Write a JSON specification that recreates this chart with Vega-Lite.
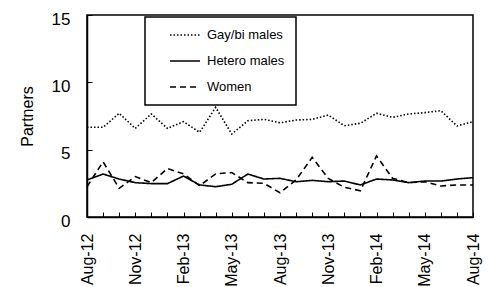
{
  "$schema": "https://vega.github.io/schema/vega-lite/v6.json",
  "autosize": {"type": "none"},
  "padding": {"left": 87, "top": 15, "right": 22, "bottom": 70},
  "width": 386,
  "height": 202,
  "background": "white",
  "config": {
    "font": "Liberation Sans",
    "view": {"stroke": "black", "strokeWidth": 1.5},
    "axis": {"domainColor": "black", "domainWidth": 1.5, "tickColor": "black", "tickWidth": 1, "labelColor": "black", "titleColor": "black", "grid": false, "labelFont": "Liberation Sans", "titleFont": "Liberation Sans"}
  },
  "data": {
    "values": [
      {"month": "Aug-12", "Gay/bi males": 6.66, "Hetero males": 2.75, "Women": 2.25},
      {"month": "Sep-12", "Gay/bi males": 6.66, "Hetero males": 3.19, "Women": 4.1},
      {"month": "Oct-12", "Gay/bi males": 7.7, "Hetero males": 2.82, "Women": 2.13},
      {"month": "Nov-12", "Gay/bi males": 6.58, "Hetero males": 2.55, "Women": 3.0},
      {"month": "Dec-12", "Gay/bi males": 7.65, "Hetero males": 2.48, "Women": 2.55},
      {"month": "Jan-13", "Gay/bi males": 6.58, "Hetero males": 2.48, "Women": 3.6},
      {"month": "Feb-13", "Gay/bi males": 7.08, "Hetero males": 3.04, "Women": 3.2},
      {"month": "Mar-13", "Gay/bi males": 6.29, "Hetero males": 2.38, "Women": 2.33},
      {"month": "Apr-13", "Gay/bi males": 8.14, "Hetero males": 2.25, "Women": 3.2},
      {"month": "May-13", "Gay/bi males": 6.16, "Hetero males": 2.43, "Women": 3.3},
      {"month": "Jun-13", "Gay/bi males": 7.15, "Hetero males": 3.19, "Women": 2.55},
      {"month": "Jul-13", "Gay/bi males": 7.25, "Hetero males": 2.82, "Women": 2.5},
      {"month": "Aug-13", "Gay/bi males": 7.0, "Hetero males": 2.87, "Women": 1.8},
      {"month": "Sep-13", "Gay/bi males": 7.2, "Hetero males": 2.62, "Women": 2.75},
      {"month": "Oct-13", "Gay/bi males": 7.25, "Hetero males": 2.72, "Women": 4.43},
      {"month": "Nov-13", "Gay/bi males": 7.57, "Hetero males": 2.62, "Women": 2.87},
      {"month": "Dec-13", "Gay/bi males": 6.78, "Hetero males": 2.67, "Women": 2.2},
      {"month": "Jan-14", "Gay/bi males": 6.96, "Hetero males": 2.38, "Women": 1.95},
      {"month": "Feb-14", "Gay/bi males": 7.7, "Hetero males": 2.82, "Women": 4.53},
      {"month": "Mar-14", "Gay/bi males": 7.4, "Hetero males": 2.75, "Women": 2.87},
      {"month": "Apr-14", "Gay/bi males": 7.65, "Hetero males": 2.55, "Women": 2.55},
      {"month": "May-14", "Gay/bi males": 7.75, "Hetero males": 2.67, "Women": 2.62},
      {"month": "Jun-14", "Gay/bi males": 7.9, "Hetero males": 2.67, "Women": 2.3},
      {"month": "Jul-14", "Gay/bi males": 6.76, "Hetero males": 2.82, "Women": 2.38},
      {"month": "Aug-14", "Gay/bi males": 7.08, "Hetero males": 2.92, "Women": 2.38}
    ]
  },
  "transform": [
    {"fold": ["Gay/bi males", "Hetero males", "Women"], "as": ["group", "partners"]}
  ],
  "mark": {"type": "line", "color": "black", "strokeWidth": 1.6},
  "encoding": {
    "x": {
      "field": "month",
      "type": "ordinal",
      "sort": null,
      "scale": {"type": "point", "padding": 0},
      "axis": {
        "title": null,
        "labelAngle": -90,
        "labelAlign": "right",
        "labelBaseline": "middle",
        "labelFontSize": 16,
        "labelPadding": 21,
        "tickSize": -5,
        "labelExpr": "indexof(['Aug-12','Nov-12','Feb-13','May-13','Aug-13','Nov-13','Feb-14','May-14','Aug-14'], datum.value) >= 0 ? datum.value : ''"
      }
    },
    "y": {
      "field": "partners",
      "type": "quantitative",
      "scale": {"domain": [0, 15], "nice": false},
      "axis": {
        "title": "Partners",
        "titleFontSize": 16,
        "titleFontWeight": "normal",
        "titlePadding": 16,
        "values": [0, 5, 10, 15],
        "labelFontSize": 17,
        "labelPadding": 22,
        "labelOffset": 4,
        "tickSize": -5
      }
    },
    "strokeDash": {
      "field": "group",
      "type": "nominal",
      "scale": {"domain": ["Gay/bi males", "Hetero males", "Women"], "range": [[1.5, 2], [1, 0], [6, 4]]},
      "legend": {
        "title": null,
        "orient": "none",
        "legendX": 58,
        "legendY": 2,
        "strokeColor": "black",
        "padding": 11,
        "symbolType": "stroke",
        "symbolSize": 900,
        "symbolStrokeColor": "black",
        "symbolStrokeWidth": 1.6,
        "symbolOffset": 13,
        "clipHeight": 14,
        "labelFontSize": 13,
        "labelColor": "black",
        "labelOffset": 6,
        "rowPadding": 12,
        "fillColor": "white",
        "encode": {"legend": {"update": {"strokeWidth": {"value": 1.5}}}}
      }
    }
  }
}
